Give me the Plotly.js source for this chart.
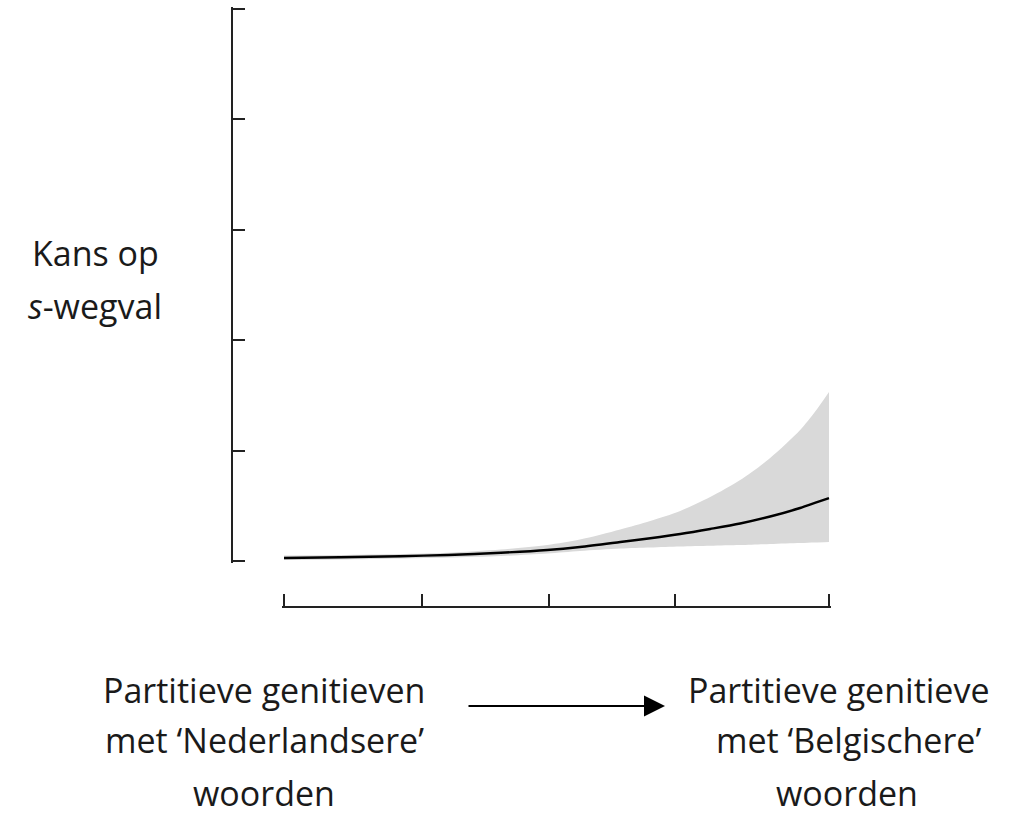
<!DOCTYPE html>
<html>
<head>
<meta charset="utf-8">
<script src="https://cdn.plot.ly/plotly-3.0.1.min.js"></script>
<style>html,body{margin:0;padding:0;background:#fff;}#chart{width:1025px;height:819px;}</style>
</head>
<body>
<div id="chart"></div>
<script>
// Data (x: position from 'Nederlandsere' (0) to 'Belgischere' (1) words)
const xVals   = [0, 0.103, 0.213, 0.301, 0.398, 0.483, 0.543, 0.617, 0.672, 0.727, 0.782, 0.837, 0.892, 0.947, 0.974, 1.0];
const fitVals = [0.0054, 0.0067, 0.0087, 0.0109, 0.0149, 0.0199, 0.0254, 0.0344, 0.0413, 0.0489, 0.0580, 0.0679, 0.0806, 0.0960, 0.1051, 0.1141];
const upperCI = [0.0100, 0.0109, 0.0127, 0.0150, 0.0208, 0.0290, 0.0389, 0.0571, 0.0725, 0.0906, 0.1159, 0.1467, 0.1866, 0.2373, 0.2699, 0.3062];
const lowerCI = [0.0018, 0.0027, 0.0045, 0.0063, 0.0091, 0.0136, 0.0181, 0.0226, 0.0245, 0.0263, 0.0277, 0.0290, 0.0308, 0.0326, 0.0335, 0.0344];
const xTicks  = [0, 0.253, 0.486, 0.717, 1.0];
const yTicks  = [0, 0.2, 0.4, 0.6, 0.8, 1.0];
const yLabel  = ['Kans op', '<i>s</i>-wegval'];
const leftLabel  = ['Partitieve genitieven', 'met ‘Nederlandsere’', 'woorden'];
const rightLabel = ['Partitieve genitieve', 'met ‘Belgischere’', 'woorden'];

const W = 1025, H = 819;
const px = v => v / W;
const py = v => 1 - v / H;
const PAD = 0.003;

const traces = [
  {x: xVals, y: lowerCI, type: 'scatter', mode: 'lines', line: {width: 0, shape: 'spline', smoothing: 0.8}, hoverinfo: 'skip', showlegend: false},
  {x: xVals, y: upperCI, type: 'scatter', mode: 'lines', fill: 'tonexty', fillcolor: '#d9d9d9', line: {width: 0, shape: 'spline', smoothing: 0.8}, hoverinfo: 'skip', showlegend: false},
  {x: xVals, y: fitVals, type: 'scatter', mode: 'lines', line: {color: '#000', width: 2.4, shape: 'spline', smoothing: 0.8}, showlegend: false}
];

const font = {family: '"Open Sans", Lato, sans-serif', size: 34, color: '#1a1a1a'};

function textAnn(txt, x, y) {
  return {text: txt, x: px(x), y: py(y), xref: 'paper', yref: 'paper', showarrow: false, font: font, xanchor: 'center', yanchor: 'middle'};
}

const annotations = [
  textAnn(yLabel[0], 95, 253),
  textAnn(yLabel[1], 95, 306),
  textAnn(leftLabel[0], 264, 690),
  textAnn(leftLabel[1], 264, 740),
  textAnn(leftLabel[2], 264, 793),
  textAnn(rightLabel[0], 839, 690),
  textAnn(rightLabel[1], 848, 740),
  textAnn(rightLabel[2], 847, 793),
  {text: '', x: px(665), y: py(706), xref: 'paper', yref: 'paper', showarrow: true,
   ax: -198, ay: 0, axref: 'pixel', ayref: 'pixel', arrowhead: 2, arrowsize: 2.1, arrowwidth: 2, arrowcolor: '#000'}
];

const xL = 284, xR = 829, yB = 561, yT = 9;
const xPadPx = PAD * (xR - xL), yPadPx = PAD * (yB - yT);

const layout = {
  width: W, height: H,
  margin: {l: 0, r: 0, t: 0, b: 0},
  paper_bgcolor: '#fff', plot_bgcolor: '#fff',
  showlegend: false,
  xaxis: {
    domain: [px(xL - xPadPx), px(xR + xPadPx)], range: [-PAD, 1 + PAD], anchor: 'free', position: py(607),
    showgrid: false, zeroline: false, showline: true, linecolor: '#222', linewidth: 2,
    tickmode: 'array', tickvals: xTicks, ticks: 'inside', ticklen: 12, tickwidth: 2, tickcolor: '#222',
    showticklabels: false, fixedrange: true
  },
  yaxis: {
    domain: [py(yB + yPadPx), py(yT - yPadPx)], range: [-PAD, 1 + PAD], anchor: 'free', position: px(232),
    showgrid: false, zeroline: false, showline: true, linecolor: '#222', linewidth: 2,
    tickmode: 'array', tickvals: yTicks, ticks: 'inside', ticklen: 12, tickwidth: 2, tickcolor: '#222',
    showticklabels: false, fixedrange: true
  },
  annotations: annotations
};

Plotly.newPlot('chart', traces, layout, {displayModeBar: false, staticPlot: true});
</script>
</body>
</html>
